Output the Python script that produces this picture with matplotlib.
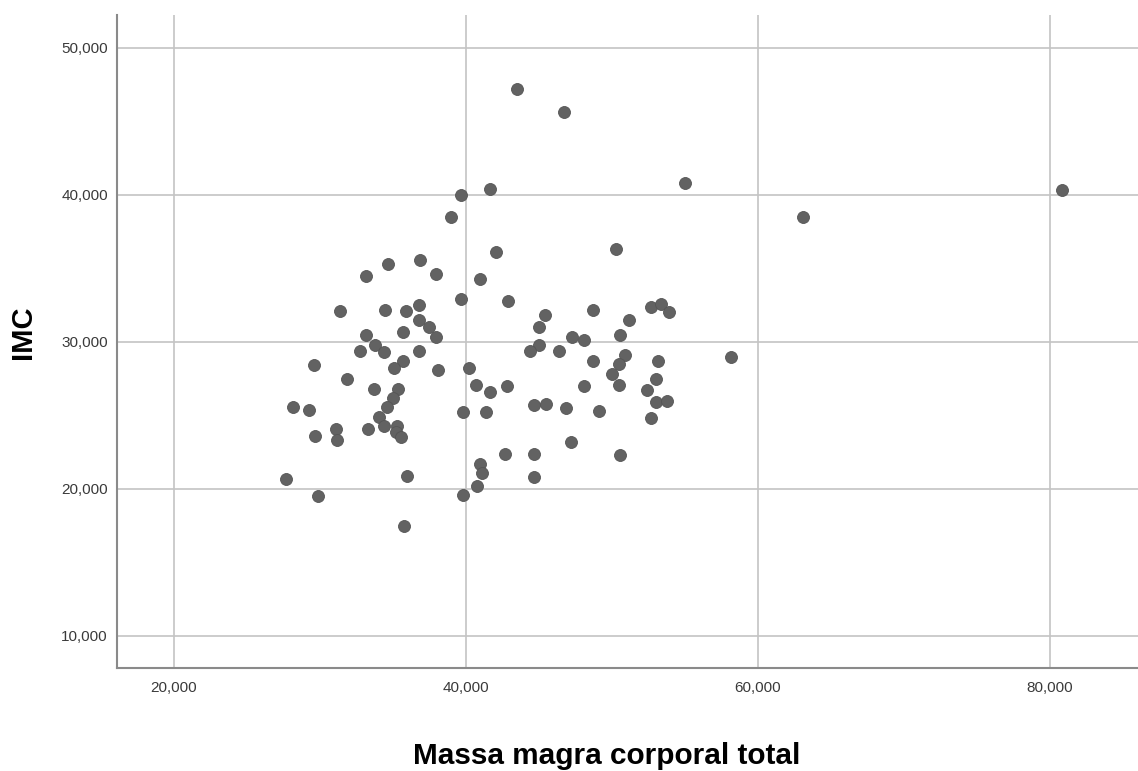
import matplotlib.pyplot as plt
from matplotlib.ticker import FuncFormatter

# Massa magra corporal total (kg) and IMC (kg/m2)
massa_magra = [
    43.5, 46.7, 55.0, 80.8, 63.1, 58.2, 41.7, 39.7, 39.0, 42.1,
    50.3, 33.2, 34.7, 36.9, 38.0, 41.0, 39.7, 31.4, 34.5, 35.9,
    36.8, 36.8, 37.5, 38.0, 35.7, 33.2, 33.8, 34.4, 32.8, 36.8,
    35.7, 35.1, 38.1, 29.6, 31.9, 33.7, 35.4, 35.0, 34.6, 28.2,
    29.3, 34.1, 34.4, 35.3, 35.2, 35.6, 33.3, 29.7, 31.1, 31.2,
    27.7, 36.0, 29.9, 35.8,
    52.7, 53.4, 53.9, 51.2, 48.7, 45.4, 42.9, 45.0, 50.6, 47.3,
    48.1, 45.0, 44.4, 46.4, 50.9, 48.7, 53.2, 50.5, 40.2, 50.0,
    53.0, 40.7, 42.8, 41.7, 50.5, 48.1, 52.4, 53.0, 53.8, 44.7,
    45.5, 46.9, 49.1, 52.7, 39.8, 41.4, 47.2, 42.7, 44.7, 50.6,
    41.0, 41.1, 44.7, 40.8, 39.8,
]
imc = [
    47.2, 45.6, 40.8, 40.3, 38.5, 29.0, 40.4, 40.0, 38.5, 36.1,
    36.3, 34.5, 35.3, 35.6, 34.6, 34.3, 32.9, 32.1, 32.2, 32.1,
    32.5, 31.5, 31.0, 30.3, 30.7, 30.5, 29.8, 29.3, 29.4, 29.4,
    28.7, 28.2, 28.1, 28.4, 27.5, 26.8, 26.8, 26.2, 25.6, 25.6,
    25.4, 24.9, 24.3, 24.3, 23.9, 23.5, 24.1, 23.6, 24.1, 23.3,
    20.7, 20.9, 19.5, 17.5,
    32.4, 32.6, 32.0, 31.5, 32.2, 31.8, 32.8, 31.0, 30.5, 30.3,
    30.1, 29.8, 29.4, 29.4, 29.1, 28.7, 28.7, 28.5, 28.2, 27.8,
    27.5, 27.1, 27.0, 26.6, 27.1, 27.0, 26.7, 25.9, 26.0, 25.7,
    25.8, 25.5, 25.3, 24.8, 25.2, 25.2, 23.2, 22.4, 22.4, 22.3,
    21.7, 21.1, 20.8, 20.2, 19.6,
]

x_ticks = [20, 40, 60, 80]
y_ticks = [10, 20, 30, 40, 50]

plt.rcParams['font.family'] = ['Liberation Sans', 'DejaVu Sans']

fig = plt.figure(figsize=(11.38, 7.71), dpi=100)
ax = fig.add_axes([117 / 1138, 103 / 771, 1 - 117 / 1138, 653 / 771])

ax.scatter(massa_magra, imc, s=74, color='#626262', edgecolors='#555555',
           linewidths=0.6, zorder=3)

ax.set_xlim(16.13, 86.03)
ax.set_ylim(7.82, 52.23)
ax.set_xticks(x_ticks)
ax.set_yticks(y_ticks)

fmt = FuncFormatter(lambda v, pos: f"{v:.3f}".replace('.', ','))
ax.xaxis.set_major_formatter(fmt)
ax.yaxis.set_major_formatter(fmt)

ax.grid(True, color='#c4c4c4', linewidth=1.2, zorder=0)
ax.set_axisbelow(True)
ax.tick_params(length=0, labelsize=11, labelcolor='#3a3a3a')
ax.tick_params(axis='x', pad=9)
ax.tick_params(axis='y', pad=6.5)

for side in ['top', 'right']:
    ax.spines[side].set_visible(False)
for side in ['left', 'bottom']:
    ax.spines[side].set_color('#8a8a8a')
    ax.spines[side].set_linewidth(1.5)

fig.text(606.5 / 1138, 1 - 764 / 771, 'Massa magra corporal total',
         ha='center', va='baseline', fontsize=21.4, fontweight='bold')
fig.text(23 / 1138, 1 - 332 / 771, 'IMC', ha='center', va='center',
         rotation=90, fontsize=21, fontweight='bold')

fig.savefig('out.png', dpi=100)
